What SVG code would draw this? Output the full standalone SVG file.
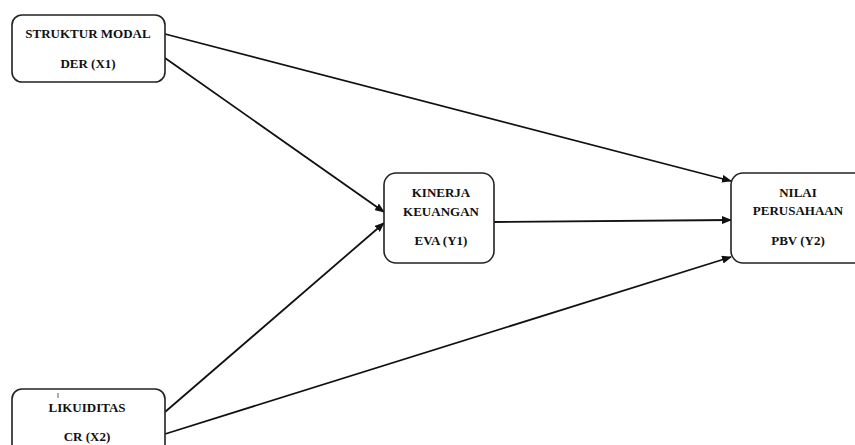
<svg xmlns="http://www.w3.org/2000/svg" width="855" height="445" viewBox="0 0 855 445">
<style>
.box{fill:#fff;stroke:#222;stroke-width:1.6}
.t{font-family:"Liberation Serif","Times New Roman",serif;font-weight:bold;font-size:13px;fill:#111;text-anchor:middle}
.c{stroke:#111;stroke-width:1.8;fill:none;marker-end:url(#ah)}
</style>
<defs>
<marker id="ah" markerWidth="10" markerHeight="8" refX="9" refY="4" orient="auto" markerUnits="userSpaceOnUse">
<path d="M0,0 L10,4 L0,8 z" fill="#111"/>
</marker>
</defs>
<rect width="855" height="445" fill="#fff"/>
<g id="connectors">
<line class="c" x1="165" y1="34" x2="731" y2="181"/>
<line class="c" x1="165" y1="58" x2="384" y2="212"/>
<line class="c" x1="165" y1="412" x2="384" y2="223"/>
<line class="c" x1="165" y1="434" x2="731" y2="257"/>
<line class="c" x1="494" y1="222" x2="731" y2="220"/>
</g>
<g id="x1">
<rect class="box" x="12" y="15" width="153" height="67" rx="10"/>
<text class="t" x="88" y="38">STRUKTUR MODAL</text>
<text class="t" x="88" y="68">DER (X1)</text>
</g>
<g id="x2">
<rect class="box" x="12" y="389" width="153" height="70" rx="10"/>
<line x1="58" y1="393" x2="58" y2="398" stroke="#333" stroke-width="0.8"/>
<text class="t" x="87" y="412">LIKUIDITAS</text>
<text class="t" x="87" y="441">CR (X2)</text>
</g>
<g id="y1">
<rect class="box" x="384" y="173" width="110" height="90" rx="12"/>
<text class="t" x="441" y="197">KINERJA</text>
<text class="t" x="441" y="216">KEUANGAN</text>
<text class="t" x="441" y="245">EVA (Y1)</text>
</g>
<g id="y2">
<rect class="box" x="731" y="173" width="135" height="90" rx="12"/>
<text class="t" x="798" y="197">NILAI</text>
<text class="t" x="798" y="215">PERUSAHAAN</text>
<text class="t" x="798" y="245">PBV (Y2)</text>
</g>
</svg>
